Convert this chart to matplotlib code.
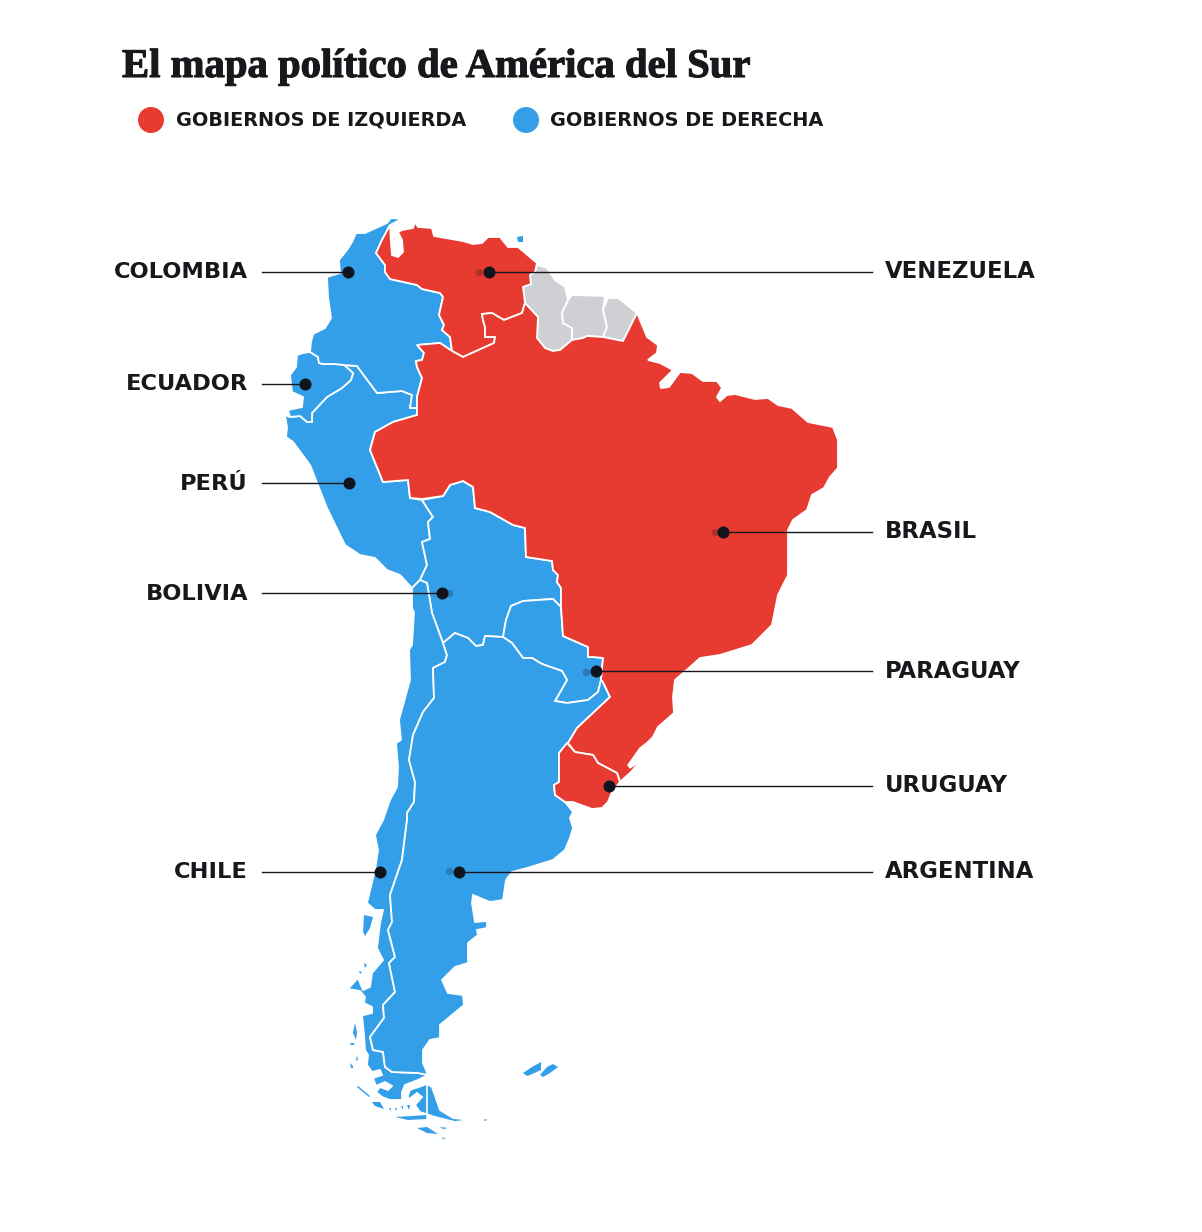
import matplotlib
matplotlib.use('Agg')
import matplotlib.pyplot as plt
import matplotlib.patheffects as pe

# outlines, in image pixels
colombia = [(391,218),(402,219),(390,225),(382,240),(376,253),(385,265),(385,272),(390,279),(417,285),(422,289),(440,293),(443,297),(439,315),(444,325),(442,330),(450,337),(452,351),(440,343),(417,345),(424,353),(422,360),(416,361),(417,367),(422,378),(417,397),(417,408),(410,408),(412,395),(402,391),(377,393),(357,366),(344,365),(335,364),(323,364),(319,363),(318,357),(310,352),(311,342),(313,334),(325,328),(331,318),(328,297),(327,277),(340,273),(339,260),(347,250),(352,242),(356,233),(365,233),(387,223)]
venezuela = [(415,222),(418,227),(432,228),(434,236),(463,241),(473,244),(482,243),(488,237),(500,237),(508,247),(518,247),(537,263),(535,272),(530,275),(531,284),(523,287),(525,303),(522,313),(504,320),(492,313),(482,314),(483,320),(485,327),(485,337),(495,337),(494,343),(463,357),(452,351),(450,337),(442,330),(444,325),(439,315),(443,297),(440,293),(422,289),(417,285),(390,279),(385,272),(385,265),(376,253),(382,240),(390,225),(391,243),(392,255),(398,257),(403,252),(402,240),(398,232),(402,230),(413,228)]
guyana = [(537,265),(547,268),(555,280),(565,287),(568,300),(562,313),(563,323),(572,328),(572,340),(560,350),(553,351),(545,348),(537,338),(538,317),(525,303),(523,287),(531,284),(530,275),(535,272)]
suriname = [(572,295),(605,296),(603,310),(607,327),(603,337),(587,336),(583,338),(572,340),(572,328),(563,323),(562,313),(568,300)]
french_guiana = [(608,298),(618,298),(637,313),(623,341),(603,337),(607,327),(603,310)]
brazil = [(637,313),(640,320),(647,337),(658,345),(657,353),(648,360),(660,363),(673,370),(660,383),(661,388),(669,387),(680,372),(692,373),(703,381),(717,381),(722,388),(717,397),(720,401),(727,395),(735,394),(755,399),(768,398),(778,405),(792,408),(808,422),(833,427),(838,440),(838,468),(830,477),(824,488),(812,495),(807,510),(793,520),(788,530),(788,575),(778,595),(772,625),(752,645),(720,655),(700,658),(690,667),(675,680),(673,697),(674,713),(658,727),(653,737),(648,742),(637,765),(631,772),(620,782),(617,773),(598,763),(593,755),(575,752),(568,743),(577,728),(610,697),(603,682),(601,680),(603,658),(593,657),(588,657),(588,647),(563,636),(561,607),(561,588),(557,582),(558,575),(553,570),(552,561),(526,557),(525,528),(513,525),(490,512),(475,508),(473,487),(463,481),(450,485),(443,496),(422,499),(410,498),(408,480),(383,482),(370,450),(375,432),(393,422),(417,415),(417,397),(422,378),(417,367),(416,361),(422,360),(424,353),(417,345),(440,343),(452,351),(463,357),(494,343),(495,337),(485,337),(485,327),(483,320),(482,314),(492,313),(504,320),(522,313),(525,303),(538,317),(537,338),(545,348),(553,351),(560,350),(572,340),(583,338),(587,336),(603,337),(623,341)]
uruguay = [(567,743),(575,752),(593,755),(598,763),(617,773),(620,782),(612,792),(608,802),(602,808),(592,809),(573,802),(565,802),(555,795),(554,785),(559,782),(559,753)]
paraguay = [(503,637),(506,620),(511,606),(523,601),(553,599),(561,607),(563,636),(588,647),(588,657),(593,657),(603,658),(601,680),(598,692),(588,700),(567,703),(555,701),(567,680),(562,671),(542,664),(532,658),(523,658),(512,643)]
bolivia = [(422,500),(433,517),(428,522),(430,539),(422,542),(427,565),(420,580),(427,583),(432,613),(443,643),(455,633),(468,638),(476,646),(483,645),(485,636),(503,637),(506,620),(511,606),(523,601),(553,599),(561,607),(561,588),(557,582),(558,575),(553,570),(552,561),(526,557),(525,528),(513,525),(490,512),(475,508),(473,487),(463,481),(450,485),(443,496)]
peru = [(285,415),(290,417),(300,416),(307,422),(312,422),(312,413),(327,397),(342,388),(351,380),(353,373),(344,365),(357,366),(377,393),(402,391),(412,395),(410,408),(417,408),(417,415),(393,422),(375,432),(370,450),(383,482),(408,480),(410,498),(422,500),(433,517),(428,522),(430,539),(422,542),(427,565),(420,580),(412,588),(400,575),(387,570),(375,558),(360,555),(345,545),(327,508),(310,465),(293,442),(286,437),(287,427)]
ecuador = [(310,352),(318,357),(319,363),(323,364),(335,364),(344,365),(353,373),(351,380),(342,388),(327,397),(312,413),(312,422),(307,422),(300,416),(290,417),(288,410),(302,407),(303,397),(292,392),(290,375),(296,367),(297,355),(303,353)]
chile = [(420,580),(427,583),(432,613),(443,643),(447,655),(445,662),(433,668),(434,698),(423,712),(413,735),(409,760),(415,782),(414,802),(407,813),(407,820),(402,860),(390,895),(392,922),(388,930),(395,957),(389,963),(395,992),(383,1005),(384,1018),(370,1037),(373,1050),(383,1052),(385,1067),(392,1072),(418,1073),(428,1075),(418,1080),(405,1085),(402,1092),(402,1100),(390,1100),(382,1097),(376,1092),(380,1087),(388,1090),(392,1086),(385,1082),(376,1086),(373,1078),(382,1075),(380,1070),(372,1072),(367,1065),(368,1055),(365,1050),(364,1035),(362,1015),(364,1015),(372,1013),(372,1007),(364,1003),(365,997),(360,991),(348,989),(358,978),(363,990),(370,987),(372,973),(383,960),(377,948),(380,923),(383,910),(375,910),(367,903),(375,870),(378,850),(375,835),(383,820),(390,800),(397,787),(398,767),(396,743),(401,740),(399,720),(410,680),(409,650),(412,645),(414,612),(412,608),(412,588)]
argentina = [(443,643),(455,633),(468,638),(476,646),(483,645),(485,636),(503,637),(512,643),(523,658),(532,658),(542,664),(562,671),(567,680),(555,701),(567,703),(588,700),(598,692),(601,680),(603,682),(610,697),(577,728),(568,743),(559,753),(559,782),(554,785),(555,795),(565,802),(573,812),(570,818),(573,828),(570,838),(565,850),(553,860),(527,868),(512,872),(506,880),(503,900),(490,902),(473,895),(472,903),(475,922),(487,921),(487,928),(477,930),(478,935),(468,943),(468,963),(455,967),(442,980),(448,993),(463,995),(464,1005),(440,1025),(440,1038),(430,1040),(423,1050),(423,1063),(428,1075),(418,1073),(392,1072),(385,1067),(383,1052),(373,1050),(370,1037),(384,1018),(383,1005),(395,992),(389,963),(395,957),(388,930),(392,922),(390,895),(402,860),(407,820),(407,813),(414,802),(415,782),(409,760),(413,735),(423,712),(434,698),(433,668),(445,662),(447,655)]
tierra_del_fuego = [(410,1090),(427,1084),(432,1087),(440,1110),(453,1118),(471,1120),(455,1122),(435,1117),(420,1112),(415,1105),(422,1097),(417,1093),(408,1100),(408,1095)]

# small blue pieces: islands and the Falklands
islands = [
    [(517,237),(523,236),(523,242),(518,242)],
    [(364,915),(373,917),(370,928),(365,936),(363,932)],
    [(523,1073),(532,1067),(541,1062),(541,1070),(530,1075),(527,1076)],
    [(540,1075),(547,1067),(553,1064),(558,1067),(550,1073),(543,1077)],
    [(395,1117),(427,1115),(427,1119),(408,1120)],
    [(417,1128),(427,1127),(438,1134),(427,1133)],
    [(440,1127),(448,1128),(443,1129)],
    [(442,1137),(446,1139),(443,1139)],
    [(372,1102),(380,1102),(384,1109),(375,1106)],
    [(358,1086),(370,1096),(369,1097),(357,1087)],
    [(355,1023),(357,1032),(356,1040),(353,1033)],
    [(350,1063),(353,1066),(353,1068),(351,1068)],
    [(357,1055),(358,1060),(356,1061)],
    [(350,1043),(354,1043),(354,1045),(351,1045)],
    [(389,1108),(391,1108),(391,1111)],
    [(395,1108),(397,1108),(396,1111)],
    [(401,1106),(403,1106),(403,1110)],
    [(407,1105),(410,1105),(409,1110)],
    [(364,963),(367,965),(365,968)],
    [(359,971),(362,972),(360,974)],
    [(483,1120),(487,1119),(486,1121)],
]

left_labels = ['COLOMBIA', 'ECUADOR', 'PERÚ', 'BOLIVIA', 'CHILE']
left_dots = [(348,272), (305,384), (349,483), (442,593), (380,872)]
right_labels = ['VENEZUELA', 'BRASIL', 'PARAGUAY', 'URUGUAY', 'ARGENTINA']
right_dots = [(489,272), (723,532), (596,671), (609,786), (459,872)]
# faint smudges next to some of the dots
smudges = [(479,272), (715,532), (586,672), (449,871), (449,593)]

RED = '#e73b32'
BLUE = '#339fe8'
GRAY = '#cfd0d4'
INK = '#17181c'

fig = plt.figure(figsize=(12.02, 12.32), dpi=100)
ax = fig.add_axes([0, 0, 1, 1])
ax.set_xlim(0, 1202)
ax.set_ylim(1232, 0)
ax.axis('off')

for shape in [guyana, suriname, french_guiana]:
    ax.fill(*zip(*shape), facecolor=GRAY, edgecolor='white', lw=1.3, zorder=2)
for shape in [peru, ecuador, colombia, bolivia, paraguay, chile, argentina, tierra_del_fuego]:
    ax.fill(*zip(*shape), facecolor=BLUE, edgecolor='white', lw=1.3, zorder=2)
for shape in [venezuela, brazil, uruguay]:
    ax.fill(*zip(*shape), facecolor=RED, edgecolor='white', lw=1.3, zorder=3)
for shape in islands:
    ax.fill(*zip(*shape), facecolor=BLUE, edgecolor='none', zorder=2)

# lagoon cut out of Brazil
ax.fill([648,639,630,628,640], [742,762,768,765,748], color='white', zorder=4)
# Tierra del Fuego border
ax.plot([427,427], [1084,1118], color='white', lw=1.2, zorder=4)

for name, (x, y) in zip(left_labels, left_dots):
    ax.plot([262, x], [y, y], color=INK, lw=1, zorder=5)
    ax.text(248, y+6.5, name, ha='right', va='baseline', fontsize=16.2, family='DejaVu Sans', weight='bold', color=INK)
for name, (x, y) in zip(right_labels, right_dots):
    ax.plot([x, 872], [y, y], color=INK, lw=1, zorder=5)
    ax.text(885, y+6.5, name, ha='left', va='baseline', fontsize=16.4, family='DejaVu Sans', weight='bold', color=INK)
dots = left_dots + right_dots
ax.scatter([d[0] for d in smudges], [d[1] for d in smudges], s=28, color='#10141c', alpha=0.25, linewidths=0, zorder=5)
ax.scatter([d[0] for d in dots], [d[1] for d in dots], s=75, color='#10141c', linewidths=0, zorder=6)

title = ax.text(122, 77, 'El mapa político de América del Sur', ha='left', va='baseline', fontsize=29.3, family='Liberation Serif', weight='bold', color=INK)
title.set_path_effects([pe.withStroke(linewidth=0.8, foreground=INK)])
ax.scatter([151, 526], [120, 120], s=350, color=[RED, BLUE], linewidths=0, zorder=6)
ax.text(176, 126, 'GOBIERNOS DE IZQUIERDA', ha='left', va='baseline', fontsize=13.9, family='DejaVu Sans', weight='bold', color=INK)
ax.text(550, 126, 'GOBIERNOS DE DERECHA', ha='left', va='baseline', fontsize=13.9, family='DejaVu Sans', weight='bold', color=INK)

plt.savefig('out.png', dpi=100)
